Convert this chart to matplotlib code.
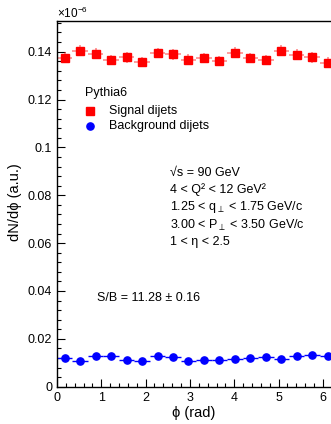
import numpy as np
import matplotlib
matplotlib.use("Agg")
import matplotlib.pyplot as plt
from matplotlib.ticker import MultipleLocator

plt.rcParams['font.family'] = ['Liberation Sans', 'DejaVu Sans']
plt.rcParams['mathtext.fontset'] = 'custom'
plt.rcParams['mathtext.rm'] = 'Liberation Sans'
plt.rcParams['mathtext.it'] = 'Liberation Sans:italic'
plt.rcParams['mathtext.fallback'] = 'stixsans'

# ---- data ----
n_bins = 18
phi_edges = np.linspace(0, 2 * np.pi, n_bins + 1)
signal = [0.1375, 0.1404, 0.1392, 0.1365, 0.1376, 0.1357, 0.1394, 0.1389, 0.1367,
          0.1374, 0.1361, 0.1396, 0.1374, 0.1365, 0.1404, 0.1387, 0.1376, 0.1354]
signal_err = [0.0022] * n_bins
background = [0.0118, 0.0108, 0.0128, 0.0128, 0.0111, 0.0106, 0.0128, 0.0125, 0.0108,
              0.0113, 0.0113, 0.0114, 0.0121, 0.0125, 0.0115, 0.0128, 0.0131, 0.0128]
background_err = [0.0006] * n_bins
x_ticks = [0, 1, 2, 3, 4, 5, 6]
y_ticks = [0, 0.02, 0.04, 0.06, 0.08, 0.1, 0.12, 0.14]
y_ticklabels = ["0", "0.02", "0.04", "0.06", "0.08", "0.1", "0.12", "0.14"]

centers = 0.5 * (phi_edges[1:] + phi_edges[:-1])
half_w = 0.5 * (phi_edges[1:] - phi_edges[:-1])

W, H = 331, 424
fig = plt.figure(figsize=(W / 100, H / 100), dpi=100)
left, right_px, bottom_px, top_px = 57, 335.4, 386.7, 21
ax = fig.add_axes([left / W, (H - bottom_px) / H, (right_px - left) / W, (bottom_px - top_px) / H])

ax.errorbar(centers, signal, xerr=half_w, yerr=signal_err, fmt='s', color='#ff0000',
            ecolor=(1, 0, 0, 0.45), elinewidth=1.2, capsize=0, markersize=5.8, mec='#ff0000')
ax.errorbar(centers, background, xerr=half_w, yerr=background_err, fmt='o', color='#0000ff',
            ecolor='#0000ff', elinewidth=1.0, capsize=0, markersize=5.2, mec='#0000ff')

ax.set_xlim(0, 2 * np.pi)
ax.set_ylim(0, 0.1528)
ax.set_xticks(x_ticks)
ax.set_xticklabels([str(t) for t in x_ticks])
ax.set_yticks(y_ticks)
ax.set_yticklabels(y_ticklabels)
ax.xaxis.set_minor_locator(MultipleLocator(0.2))
ax.yaxis.set_minor_locator(MultipleLocator(0.004))
ax.tick_params(which='both', direction='in', labelsize=9, top=False, right=False, width=0.8)
ax.tick_params(which='major', length=6)
ax.tick_params(which='minor', length=3.2)
ax.tick_params(axis='y', pad=3.5)
ax.tick_params(axis='x', pad=3.8)
for s in ax.spines.values():
    s.set_linewidth(1.0)
ax.spines['right'].set_visible(False)

fig.text(57 / W, 1 - 13 / H, r"×10$^{-6}$", fontsize=8.5, ha='left', va='center')

fig.text(15 / W, 1 - 202 / H, "dN/dϕ (a.u.)", rotation=90, fontsize=10.5, ha='center', va='center')
fig.text(194 / W, 1 - 413 / H, "ϕ (rad)", fontsize=10.5, ha='center', va='center')

# legend
fig.text(85 / W, 1 - 93 / H, "Pythia6", fontsize=9, ha='left', va='center')
fig.add_artist(plt.Line2D([90 / W], [1 - 111 / H], marker='s', color='#ff0000',
                          markersize=5.8, linestyle='none', transform=fig.transFigure))
fig.add_artist(plt.Line2D([90 / W], [1 - 126 / H], marker='o', color='#0000ff',
                          markersize=5.2, linestyle='none', transform=fig.transFigure))
fig.text(109 / W, 1 - 111 / H, "Signal dijets", fontsize=9, ha='left', va='center')
fig.text(109 / W, 1 - 126 / H, "Background dijets", fontsize=9, ha='left', va='center')

# annotation block
lines = ["√s = 90 GeV",
         "4 < Q² < 12 GeV²",
         r"1.25 < q$_{\bot}$ < 1.75 GeV/c",
         r"3.00 < P$_{\bot}$ < 3.50 GeV/c",
         "1 < η < 2.5"]
ys = [173, 190, 207, 225, 242]
for t, yy in zip(lines, ys):
    fig.text(170 / W, 1 - yy / H, t, fontsize=9, ha='left', va='center')

fig.text(97 / W, 1 - 298 / H, "S/B = 11.28 ± 0.16", fontsize=9, ha='left', va='center')

fig.savefig("out.png", dpi=100)
